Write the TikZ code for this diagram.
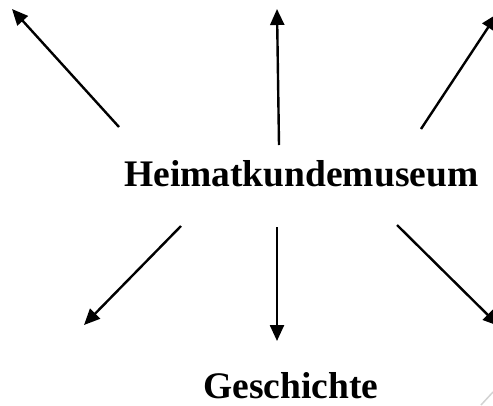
\documentclass[tikz,border=0pt]{standalone}
\usepackage{fontspec}
\setmainfont{Liberation Serif}
\usetikzlibrary{arrows.meta}

\newcommand{\PicW}{493}
\newcommand{\PicH}{405}
\newcommand{\WordSize}{\fontsize{37.5}{43}\selectfont\bfseries}

\begin{document}
\begin{tikzpicture}[x=1pt,y=-1pt,
    ray/.style={line width=2.4pt,-{Triangle[length=16pt,width=14pt]}},
    word/.style={inner sep=0pt,anchor=base west,font=\WordSize}]
        \useasboundingbox (0,0) rectangle (\PicW,\PicH);

        \node[word] (museum) at (124,186) {Heimatkundemuseum};
        \node[word] (history) at (203,398) {Geschichte};

        \coordinate (ulS) at (119,127);
        \coordinate (ulE) at (12,9);
        \coordinate (upS) at (279,145);
        \coordinate (upE) at (277,9);
        \coordinate (urS) at (421,129);
        \coordinate (urE) at (497,14);
        \coordinate (llS) at (181,226);
        \coordinate (llE) at (84,325);
        \coordinate (dnS) at (277,227);
        \coordinate (dnE) at (277,341);
        \coordinate (lrS) at (397,225);
        \coordinate (lrE) at (499,326);

        \draw[ray] (ulS) -- (ulE);% Upper Left
        \draw[ray] (upS) -- (upE);% Up
        \draw[ray] (urS) -- (urE);% Upper Right
        \draw[ray] (llS) -- (llE);% Lower Left
        \draw[ray] (dnS) -- (dnE);% Down
        \draw[ray] (lrS) -- (lrE);% Lower Right

        \coordinate (edgeA) at (481,405);
        \coordinate (edgeB) at (493,392);
        \draw[gray!35,line width=1.5pt] (edgeA) -- (edgeB);
    \end{tikzpicture}
\end{document}
